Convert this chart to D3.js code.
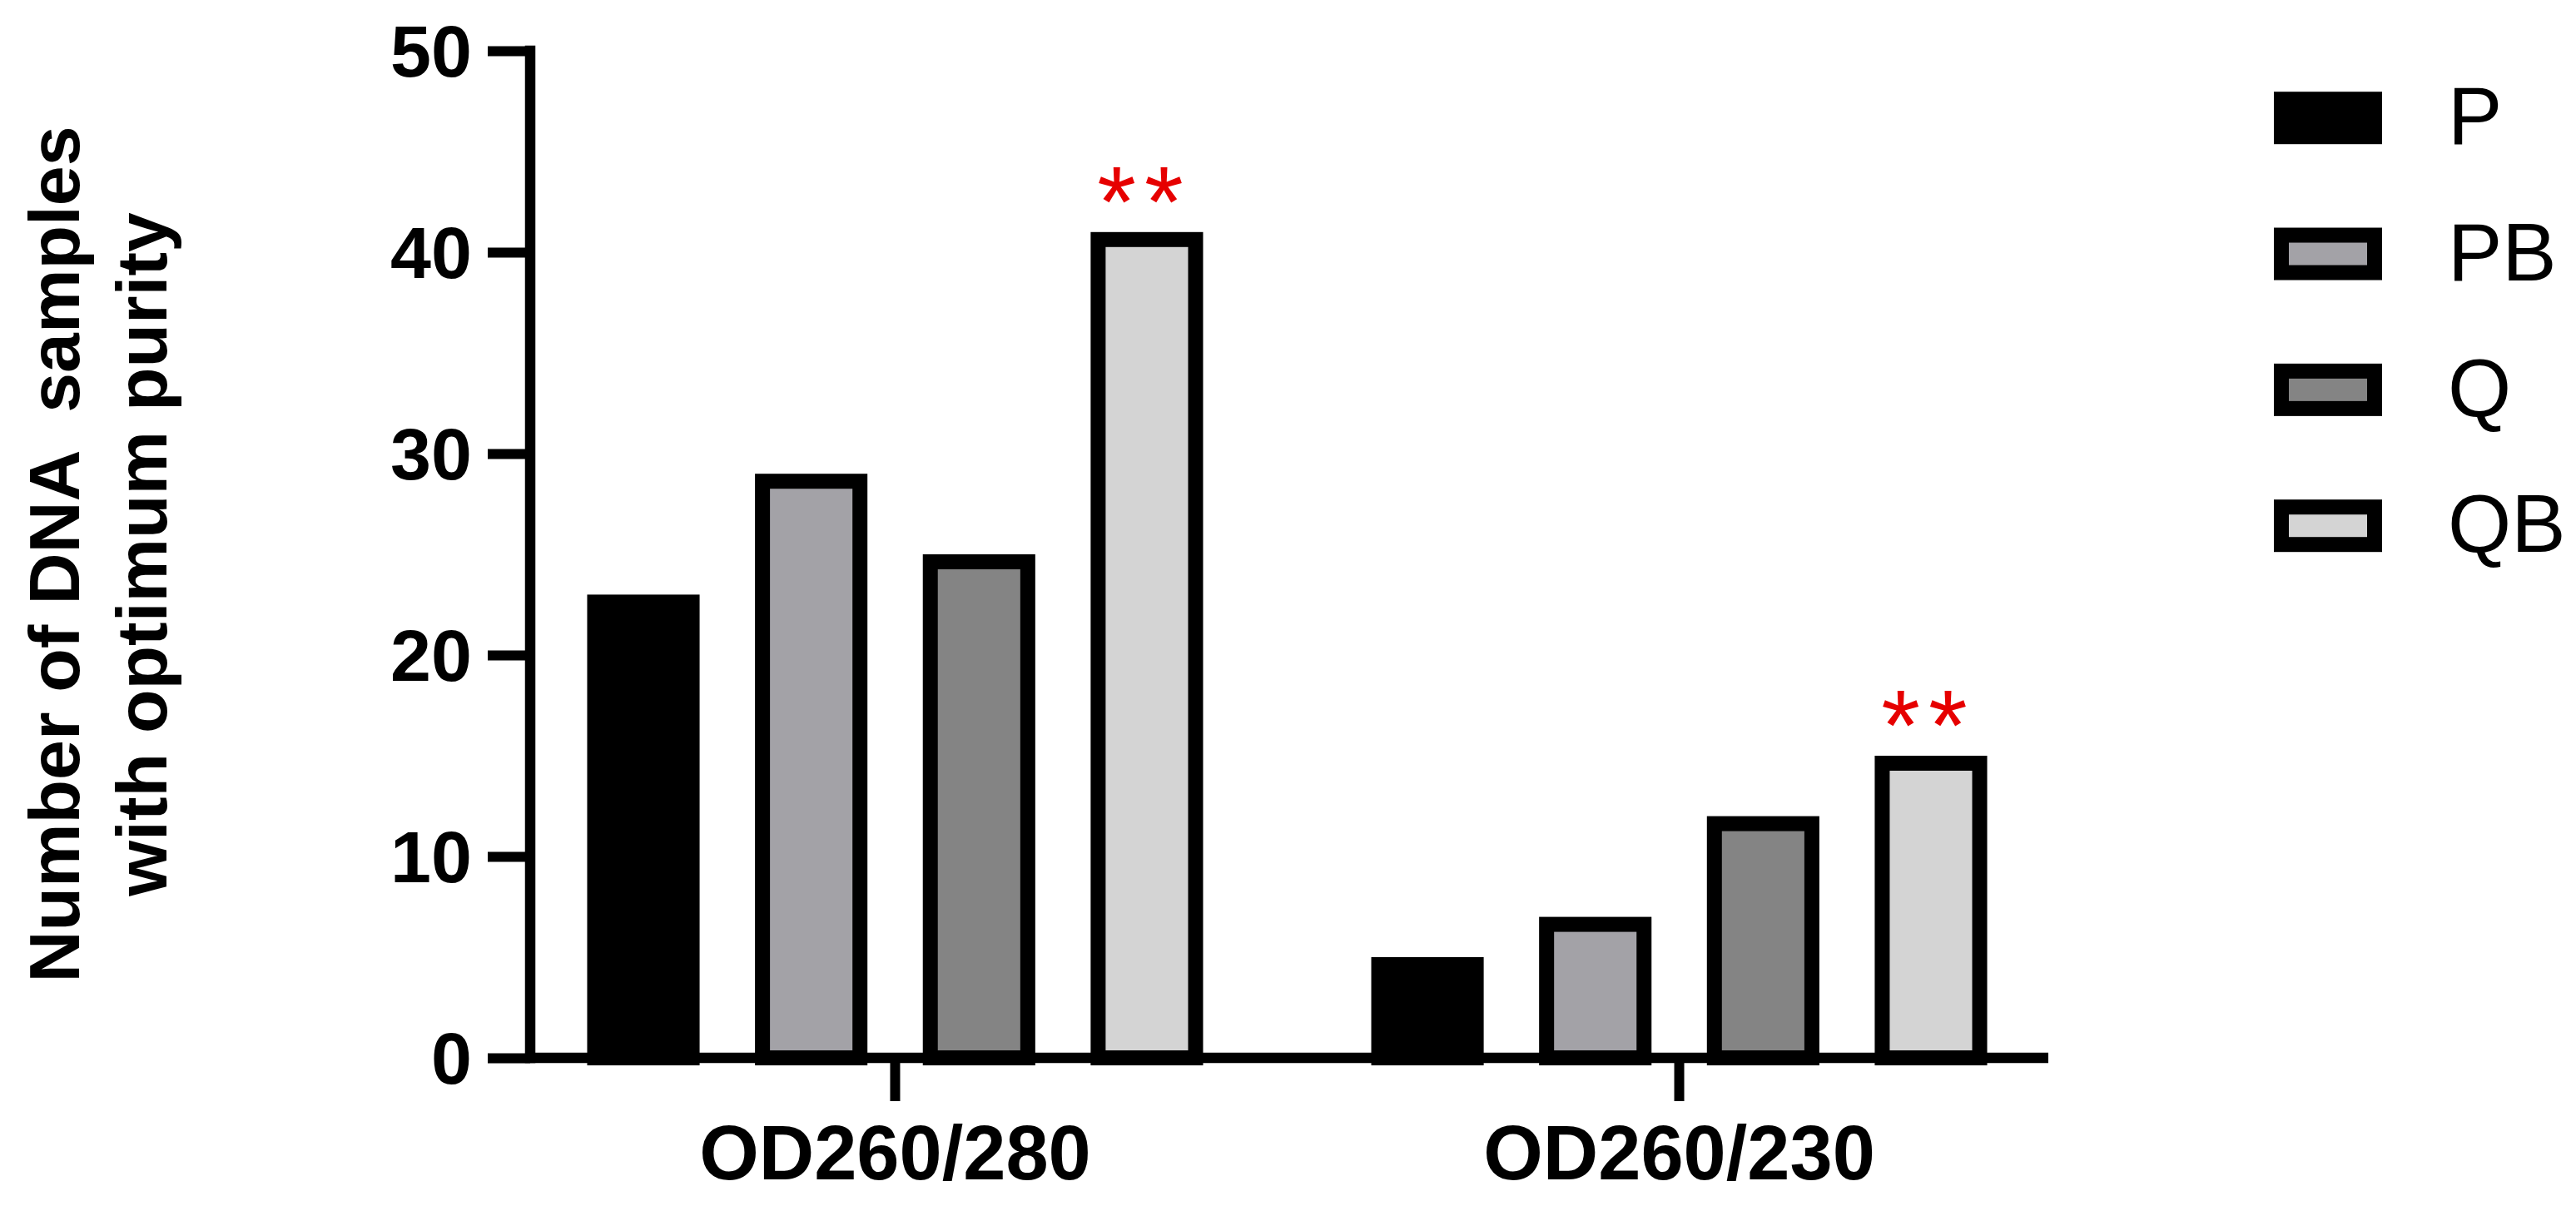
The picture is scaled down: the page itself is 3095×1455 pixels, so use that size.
<!DOCTYPE html>
<html>
<head>
<meta charset="utf-8">
<script src="https://cdn.jsdelivr.net/npm/d3@7"></script>
<style>
  html, body { margin: 0; padding: 0; background: #ffffff; }
  svg { display: block; }
  text { font-family: "Liberation Sans", Arial, Helvetica, sans-serif; }
</style>
</head>
<body>
<svg id="chart" width="3095" height="1455"></svg>
<script>
// ---- data ----
const groups = ["OD260/280", "OD260/230"];
const seriesNames = ["P", "PB", "Q", "QB"];
const valuesP  = [23, 5];
const valuesPB = [29, 7];
const valuesQ  = [25, 12];
const valuesQB = [41, 15];
const seriesFills = ["#000000", "#a3a2a7", "#848484", "#d4d4d4"];
const yTicks = [0, 10, 20, 30, 40, 50];
const sigGroups = ["OD260/280", "OD260/230"];
const sigSeries = ["QB", "QB"];
const sigLabels = ["**", "**"];
const yTitleLines = ["Number of DNA  samples", "with optimum purity"];

const seriesValues = [valuesP, valuesPB, valuesQ, valuesQB];
const rows = [];
groups.forEach((g, gi) => seriesNames.forEach((s, si) => rows.push({ group: g, series: s, value: seriesValues[si][gi] })));

// ---- layout ----
const W = 3095, H = 1455;
const axisX = 637;           // y-axis line x
const axisRight = 2461;      // end of baseline
const strokeW = 18;
const svg = d3.select("#chart");
svg.append("rect").attr("width", W).attr("height", H).attr("fill", "#fff");

const y = d3.scaleLinear().domain([0, 50]).range([1271, 61]);
const x0 = d3.scaleBand().domain(groups).range([636, 2457]).paddingInner(0.067).paddingOuter(0);
const groupSpan = 740;
const x1 = d3.scaleBand().domain(seriesNames).range([0, groupSpan]).paddingInner(0.33).paddingOuter(0);
const color = d3.scaleOrdinal().domain(seriesNames).range(seriesFills);
const barX = d => x0(d.group) + x0.bandwidth() / 2 - groupSpan / 2 + x1(d.series);

// ---- bars (border drawn inside the bar extent) ----
svg.append("g").selectAll("rect").data(rows).join("rect")
  .attr("x", d => barX(d) + strokeW / 2)
  .attr("y", d => y(d.value) + strokeW / 2)
  .attr("width", x1.bandwidth() - strokeW)
  .attr("height", d => y(0) - y(d.value) - strokeW / 2)
  .attr("fill", d => color(d.series))
  .attr("stroke", "#000")
  .attr("stroke-width", strokeW);

// ---- significance marks ----
svg.append("g").selectAll("text").data(sigLabels.map((l, i) => ({ group: sigGroups[i], series: sigSeries[i], label: l,
    value: rows.find(r => r.group === sigGroups[i] && r.series === sigSeries[i]).value })))
  .join("text")
  .attr("x", d => barX(d) + x1.bandwidth() / 2 - 3)
  .attr("y", d => y(d.value) + 5)
  .attr("text-anchor", "middle")
  .attr("fill", "#e60000")
  .attr("font-size", 120)
  .attr("letter-spacing", 10)
  .text(d => d.label);

// ---- y axis ----
const yAxis = d3.axisLeft(y).tickValues(yTicks).tickSize(51).tickPadding(19).tickSizeOuter(0);
const gy = svg.append("g").attr("transform", `translate(${axisX},0)`).call(yAxis);
gy.select(".domain").remove();
gy.selectAll(".tick line").attr("stroke", "#000").attr("stroke-width", 12);
gy.selectAll(".tick text").attr("font-size", 88).attr("font-weight", "bold").attr("fill", "#000")
  .attr("font-family", "'Liberation Sans', Arial, sans-serif").attr("dy", "0.35em");
svg.append("line")
  .attr("x1", axisX).attr("x2", axisX)
  .attr("y1", y(0)).attr("y2", y(50))
  .attr("stroke", "#000").attr("stroke-width", 12.5).attr("stroke-linecap", "square");

// ---- x axis ----
const xAxis = d3.axisBottom(x0).tickSize(52).tickPadding(29).tickSizeOuter(0);
const gx = svg.append("g").attr("transform", `translate(0,${y(0)})`).call(xAxis);
gx.select(".domain").remove();
gx.selectAll(".tick line").attr("stroke", "#000").attr("stroke-width", 12);
gx.selectAll(".tick text").attr("font-size", 92).attr("font-weight", "bold").attr("fill", "#000")
  .attr("font-family", "'Liberation Sans', Arial, sans-serif");
svg.append("line")
  .attr("x1", axisX).attr("x2", axisRight)
  .attr("y1", y(0)).attr("y2", y(0))
  .attr("stroke", "#000").attr("stroke-width", 12.5);

// ---- y title ----
const titleCenterY = (y(0) + y(50)) / 2;
const titleBaselines = d3.scalePoint().domain(yTitleLines).range([95, 200]);
svg.append("g").selectAll("text").data(yTitleLines).join("text")
  .attr("transform", d => `translate(${titleBaselines(d)},${titleCenterY}) rotate(-90)`)
  .attr("text-anchor", "middle")
  .attr("font-size", 86)
  .attr("font-weight", "bold")
  .attr("fill", "#000")
  .style("white-space", "pre")
  .text(d => d);

// ---- legend ----
const legY = d3.scalePoint().domain(seriesNames).range([141.7, 631.7]);
const legX = 2732, legW = 130, legH = 63;
const leg = svg.append("g").selectAll("g").data(seriesNames).join("g")
  .attr("transform", d => `translate(${legX},${legY(d)})`);
leg.append("rect")
  .attr("x", strokeW / 2).attr("y", -legH / 2 + strokeW / 2)
  .attr("width", legW - strokeW).attr("height", legH - strokeW)
  .attr("fill", d => color(d)).attr("stroke", "#000").attr("stroke-width", strokeW);
leg.append("text")
  .attr("x", 2941 - legX).attr("y", 31.6)
  .attr("font-size", 98)
  .attr("fill", "#000")
  .text(d => d);
</script>
</body>
</html>
